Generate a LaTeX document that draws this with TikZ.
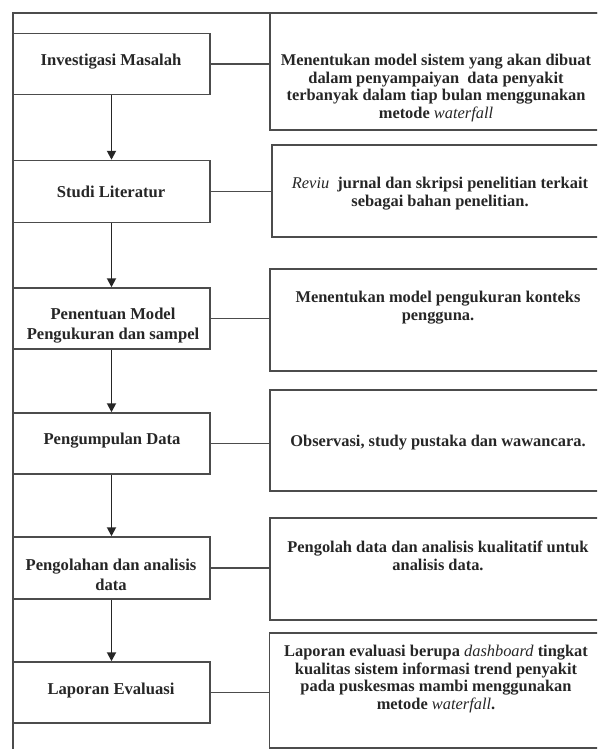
\documentclass[tikz,border=0pt]{standalone}
\usepackage{fontspec}
\setmainfont{Liberation Serif}
\usetikzlibrary{arrows.meta}
\begin{document}
\begin{tikzpicture}[x=1pt,y=-1pt,
  ln/.style={draw=black!70,line width=1.5pt},
  lbox/.style={ln,minimum width=197pt,minimum height=61pt,inner sep=0pt},
  rbox/.style={ln,inner sep=0pt,minimum width=335pt},
  ltxt/.style={font=\fontsize{16.6}{20}\selectfont\bfseries,text=black!85,align=center,inner sep=0pt},
  rtxt/.style={font=\fontsize{16.4}{17.5}\selectfont\bfseries,text=black!85,align=center,inner sep=0pt},
  arr/.style={draw=black!85,line width=1.9pt,-{Triangle[width=9pt,length=9pt]}}]
\useasboundingbox (0,0) rectangle (597,749);
\clip (0,0) rectangle (597,749);
% outer frame (right and bottom are cut off)
\coordinate (fbl) at (13,770);
\coordinate (ftl) at (13,13);
\coordinate (ftr) at (620,13);
\draw[ln] (fbl) -- (ftl) -- (ftr);
% left boxes
\node[lbox] (L1) at (111.5,64) {};
\node[lbox,minimum height=62pt] (L2) at (111.5,191.5) {};
\node[lbox] (L3) at (111.5,318.5) {};
\node[lbox] (L4) at (111.5,443.5) {};
\node[lbox,minimum height=62pt] (L5) at (111.5,568) {};
\node[lbox] (L6) at (111.5,692.5) {};
\node[ltxt] (TL1) at (111,62) {Investigasi Masalah};
\node[ltxt] (TL2) at (111,191.5) {Studi Literatur};
\node[ltxt] (TL3) at (113,326) {Penentuan Model\\Pengukuran dan sampel};
\node[ltxt] (TL4) at (112,441) {Pengumpulan Data};
\node[ltxt] (TL5) at (111,575) {Pengolahan dan analisis\\data};
\node[ltxt] (TL6) at (111,690) {Laporan Evaluasi};
% right boxes
\node[rbox,minimum height=117pt] (R1) at (437.5,71.5) {};
\node[rbox,minimum height=92pt,minimum width=333pt] (R2) at (438.5,191) {};
\node[rbox,minimum height=102pt] (R3) at (437.5,320) {};
\node[rbox,minimum height=101pt] (R4) at (437.5,440.5) {};
\node[rbox,minimum height=102pt] (R5) at (437.5,569) {};
\node[rbox,minimum height=115pt] (R6) at (437,690.5) {};
\node[rtxt] (TR1) at (436,88) {Menentukan model sistem yang akan dibuat\\dalam penyampaiyan\ \ data penyakit\\terbanyak dalam tiap bulan menggunakan\\metode {\mdseries\itshape waterfall}};
\node[rtxt] (TR2) at (440,193.5) {{\mdseries\itshape Reviu}\ \ jurnal dan skripsi penelitian terkait\\sebagai bahan penelitian.};
\node[rtxt] (TR3) at (438,307.5) {Menentukan model pengukuran konteks\\pengguna.};
\node[rtxt] (TR4) at (438,443) {Observasi, study pustaka dan wawancara.};
\node[rtxt] (TR5) at (438,556) {Pengolah data dan analisis kualitatif untuk\\analisis data.};
\node[rtxt] (TR6) at (436,679) {Laporan evaluasi berupa {\mdseries\itshape dashboard} tingkat\\kualitas sistem informasi trend penyakit\\pada puskesmas mambi menggunakan\\metode {\mdseries\itshape waterfall}.};
% arrows
\draw[arr] (L1.south) -- (L2.north);
\draw[arr] (L2.south) -- (L3.north);
\draw[arr] (L3.south) -- (L4.north);
\draw[arr] (L4.south) -- (L5.north);
\draw[arr] (L5.south) -- (L6.north);
% connectors
\foreach \i in {1,...,6} {\draw[ln] (L\i.east) -- (L\i.east -| R\i.west);}
\end{tikzpicture}
\end{document}
